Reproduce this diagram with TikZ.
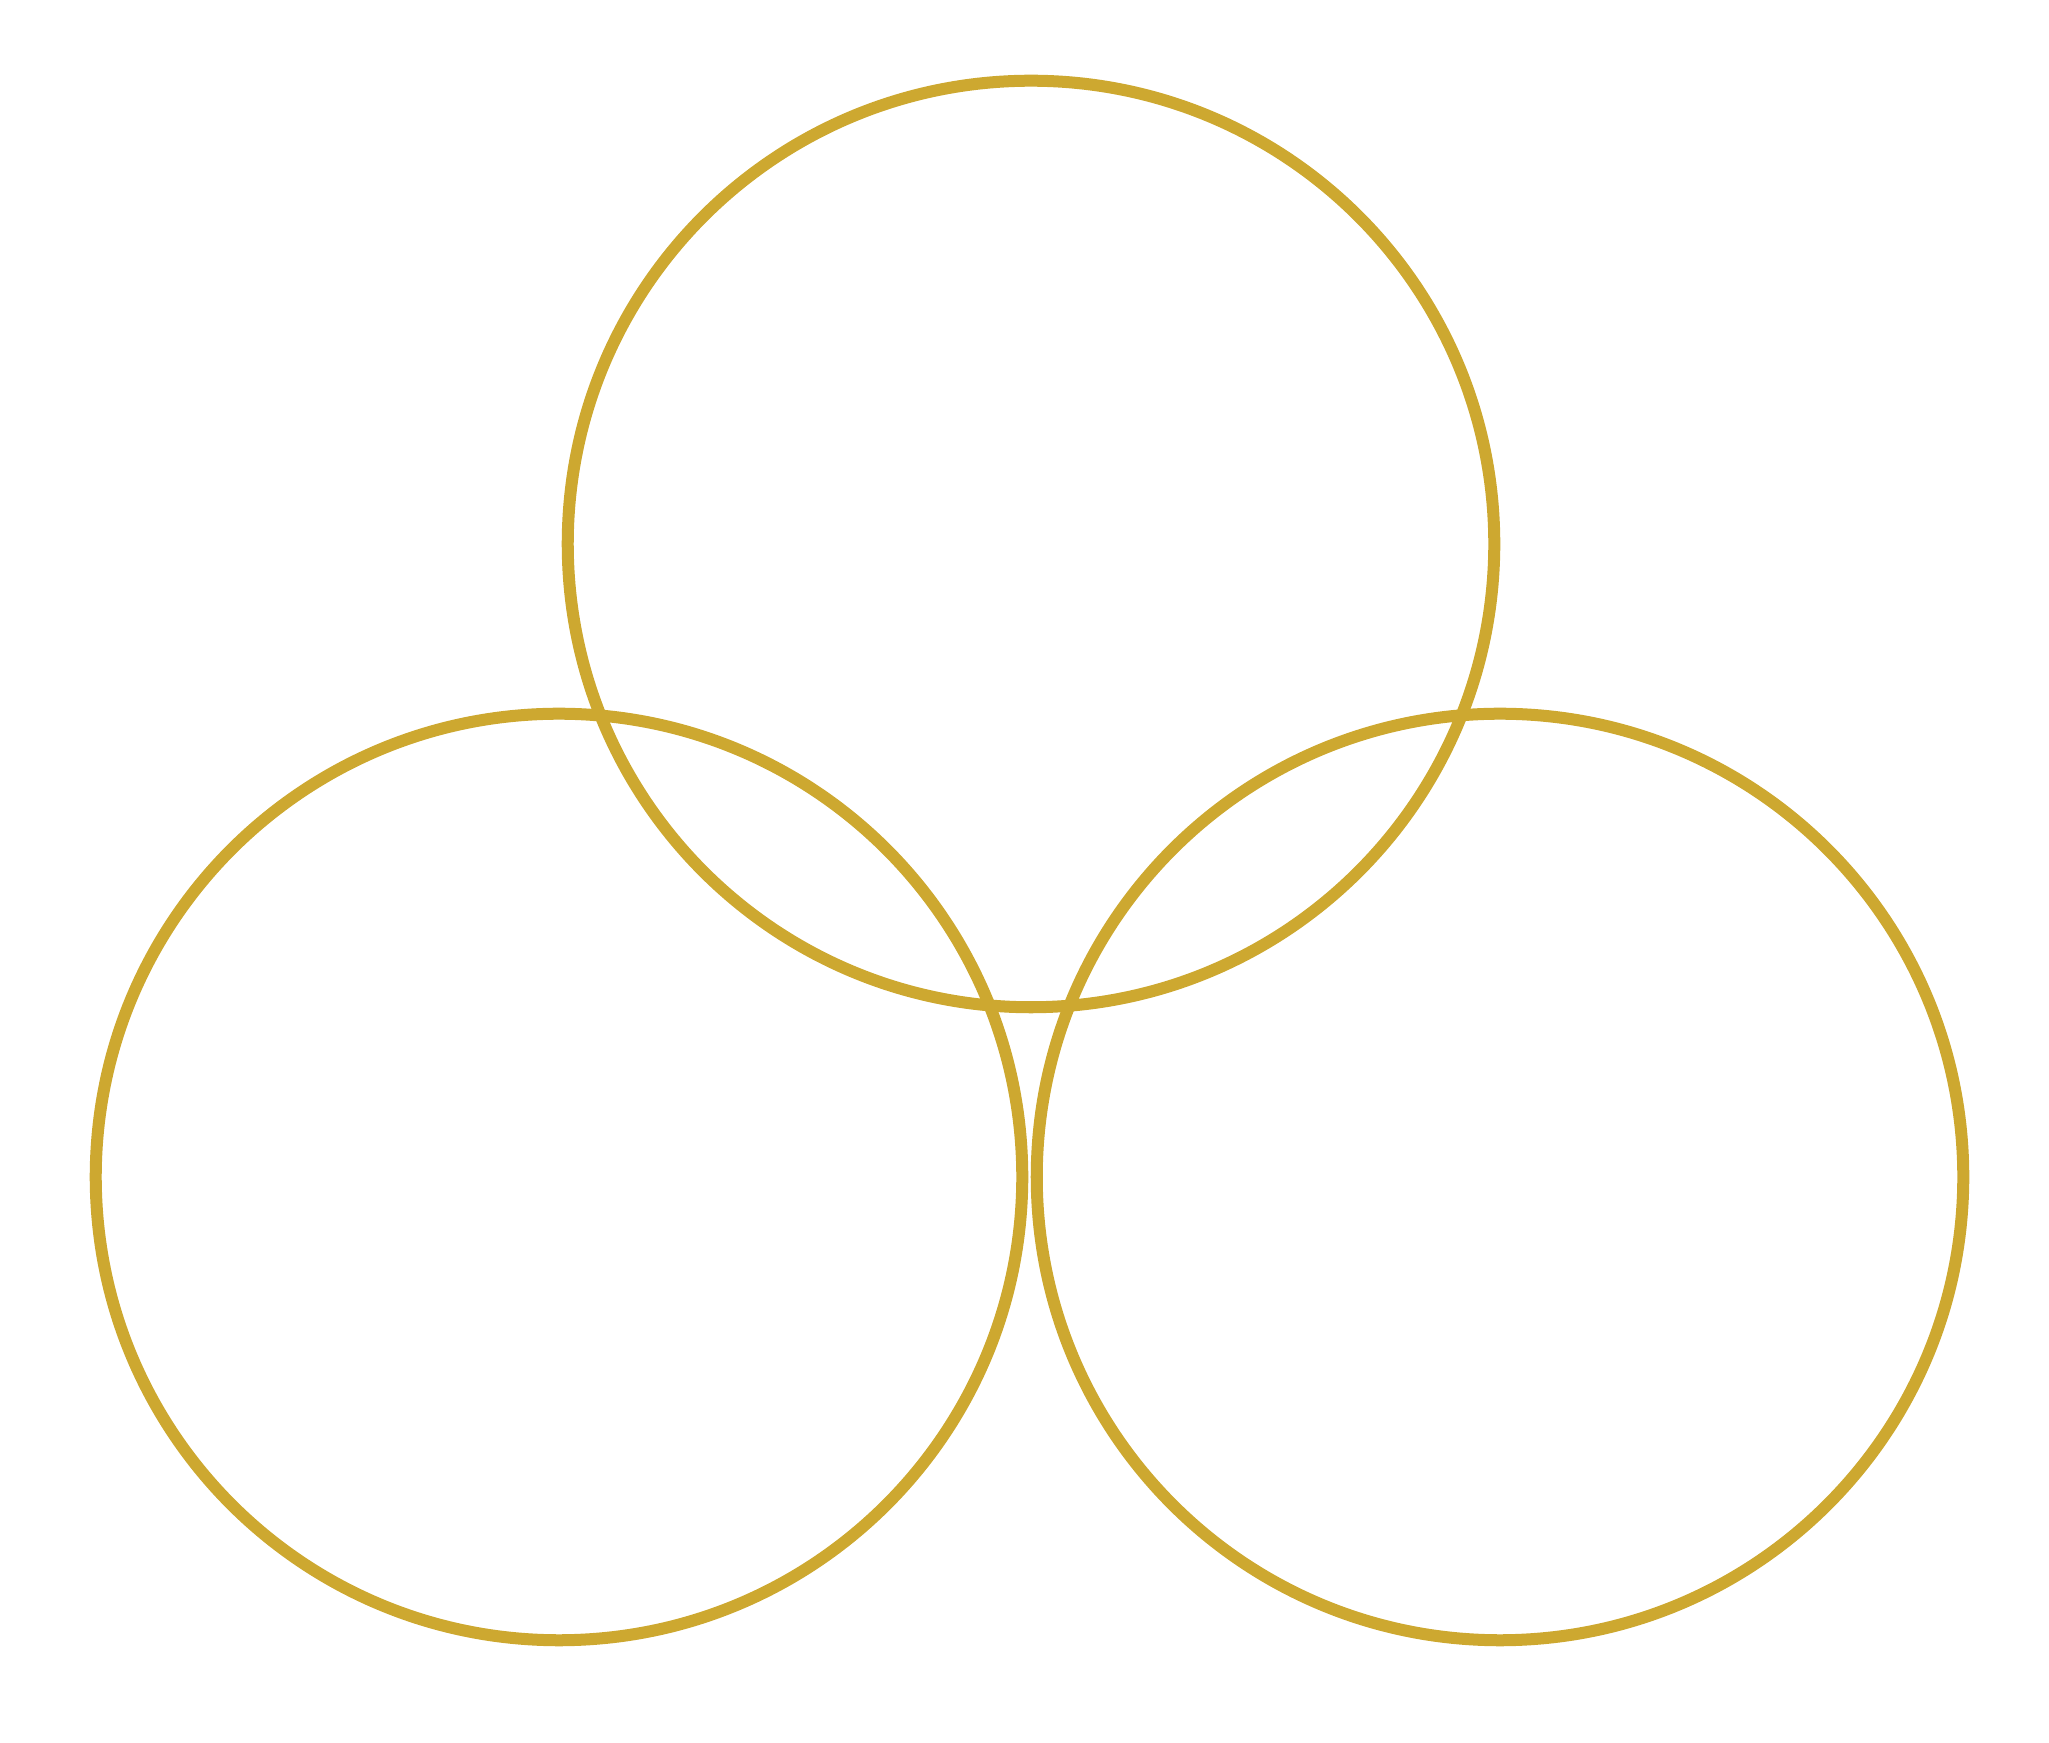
\documentclass[tikz,border=0pt]{standalone}
\usepackage{tikz}
\usetikzlibrary{positioning}
\definecolor{dourado}{RGB}{205, 168, 48}
\tikzset{
  anel/.style={
    draw=dourado, circle, line width=0.12cm,
    minimum size=9.26cm, inner sep=0pt
  },
}

\begin{document}
\begin{tikzpicture}[x=0.01cm, y=0.01cm]

% Margens
\useasboundingbox (0,0) rectangle (2049,1743);

% Aneis
\node[anel] (cima) at (1031,1199) {};
\node[anel] (esquerda) at (559,566) {};
\node[anel] (direita) at (1500,566) {};

\end{tikzpicture}
\end{document}
